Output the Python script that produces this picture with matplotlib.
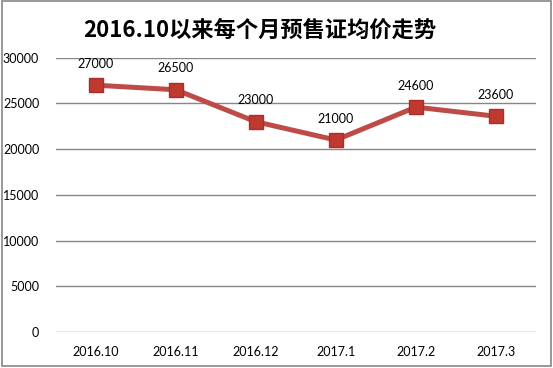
import matplotlib
matplotlib.use("Agg")
import matplotlib.pyplot as plt
from matplotlib.patches import Rectangle

plt.rcParams['font.family'] = ['Noto Sans CJK SC', 'DejaVu Sans']

# data
months = ['2016.10', '2016.11', '2016.12', '2017.1', '2017.2', '2017.3']
prices = [27000, 26500, 23000, 21000, 24600, 23600]
yticks = [0, 5000, 10000, 15000, 20000, 25000, 30000]

line_color = '#BE4B48'
grid_color = '#868686'
num_font = ['Lato', 'DejaVu Sans']

fig = plt.figure(figsize=(5.53, 3.68), dpi=100)
fig.patch.set_facecolor('white')

# chart frame
fig.patches.append(Rectangle((0.004, 0.006), 0.992, 0.99, transform=fig.transFigure,
                             fill=False, edgecolor=grid_color, linewidth=1.2))

ax = fig.add_axes([0.101, 0.098, 0.868, 0.745])
x = list(range(len(months)))
ax.plot(x, prices, color=line_color, linewidth=3.6, marker='s', markersize=10,
        markerfacecolor='#C0392F', markeredgecolor='#A8302C', zorder=3)

for xi, v in zip(x, prices):
    ax.annotate(str(v), (xi, v), xytext=(0, 11), textcoords='offset points',
                ha='center', va='bottom', fontsize=9, family=num_font)

ax.set_xlim(-0.5, len(months) - 0.5)
ax.set_ylim(0, 30000)
ax.set_yticks(yticks)
ax.set_yticklabels([str(t) for t in yticks], family=num_font, fontsize=9)
ax.set_xticks(x)
ax.set_xticklabels(months, family=num_font, fontsize=9)
ax.tick_params(length=0, pad=10)
ax.tick_params(axis='y', pad=12)
ax.grid(axis='y', color=grid_color, linewidth=1)
ax.set_axisbelow(True)
for s in ax.spines.values():
    s.set_visible(False)

fig.text(0.47, 0.918, '2016.10以来每个月预售证均价走势', ha='center', va='center',
         fontsize=16, fontweight='bold')

fig.savefig('out.png', dpi=100)
